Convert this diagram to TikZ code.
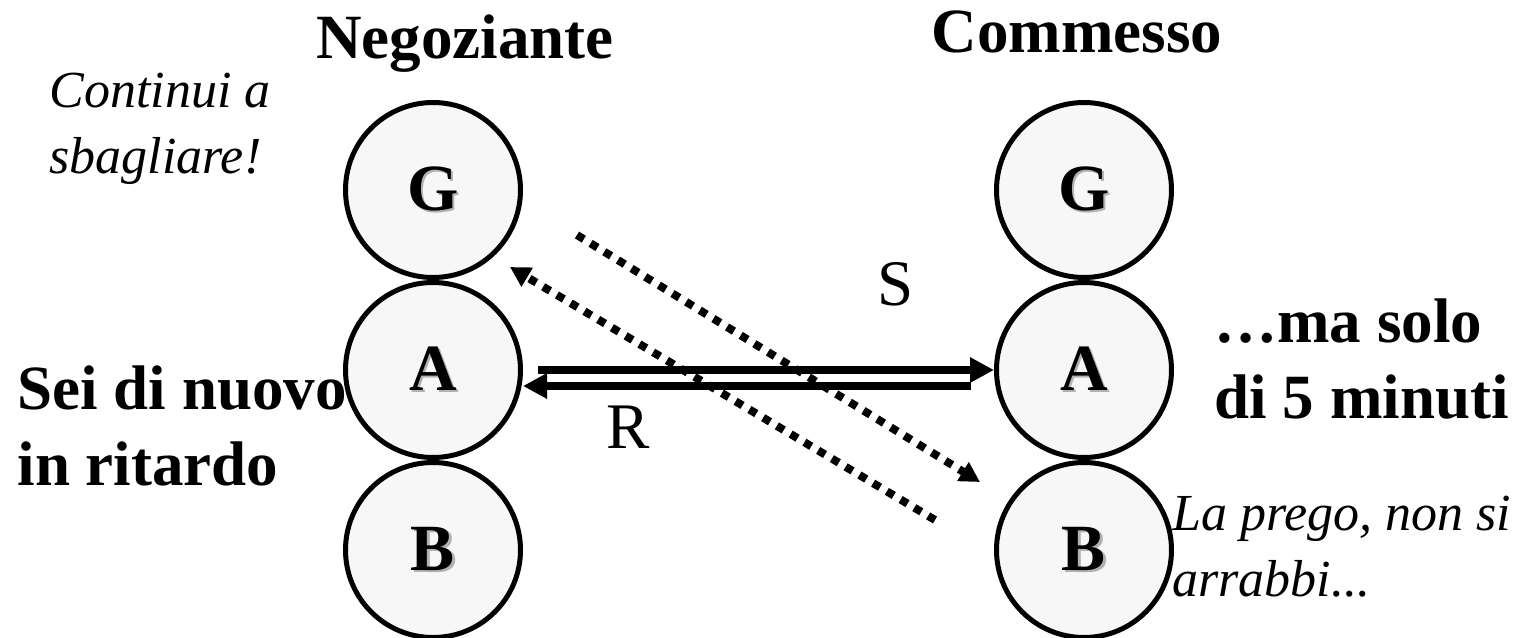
\documentclass[tikz,border=0pt]{standalone}
\usepackage{fontspec}
\setmainfont{Liberation Serif}
\usetikzlibrary{arrows.meta}

\newcommand{\shadowtxt}[1]{\makebox[0pt][l]{\hspace{1.2pt}\raisebox{-1.2pt}{\textcolor{black!30}{#1}}}#1}

\begin{document}
\begin{tikzpicture}[x=0.5pt, y=-0.5pt, line width=2.5pt,
  ball/.style={draw, circle, fill=black!3, minimum size=87.5pt, inner sep=0pt, font=\fontsize{33}{38}\selectfont\bfseries},
  head/.style={inner sep=0pt, align=left, font=\fontsize{31.5}{38}\selectfont\bfseries},
  talk/.style={inner sep=0pt, align=left, font=\fontsize{26}{33}\selectfont\itshape},
  msg/.style={line width=4pt, -{Triangle[length=12pt,width=12pt]}},
  hint/.style={line width=4pt, dash pattern=on 4pt off 4pt, -{Triangle[length=10pt,width=10.5pt]}}]
  \useasboundingbox (0,0) rectangle (1539,638);
  \node [ball] (ng) at ( 433, 190) {\shadowtxt{G}};
  \node [ball] (na) at ( 433, 370) {\shadowtxt{A}};
  \node [ball] (nb) at ( 433, 550) {\shadowtxt{B}};
  \node [ball] (cg) at (1084, 190) {\shadowtxt{G}};
  \node [ball] (ca) at (1084, 370) {\shadowtxt{A}};
  \node [ball] (cb) at (1084, 550) {\shadowtxt{B}};
  \node [head, anchor=base] (neg) at ( 465, 58) {Negoziante};
  \node [head, anchor=base] (com) at (1077, 52) {Commesso};
  \node [talk, anchor=base west] (cont) at (47, 173) {Continui a\\sbagliare!};
  \node [head, anchor=base west] (sei) at (15, 485) {Sei di nuovo\\in ritardo};
  \node [head, anchor=base west] (solo) at (1212, 418) {…ma solo\\di 5 minuti};
  \node [talk, anchor=base west] (prego) at (1170, 596) {La prego, non si\\arrabbi...};
  % messages
  \draw [msg] ([xshift=7.5pt]na.east) -- (ca.west);
  \draw [msg] ([xshift=-11.5pt,yshift=-8pt]ca.west) -- ([yshift=-8pt]na.east);
  \node [font=\fontsize{32.5}{38}\selectfont, anchor=base] (s) at (896, 305) {S};
  \node [font=\fontsize{32.5}{38}\selectfont, anchor=base] (r) at (628, 448) {R};
  % hidden messages
  \coordinate (p1) at (577, 235);
  \coordinate (p2) at (980, 482);
  \coordinate (q1) at (935, 520);
  \coordinate (q2) at (510, 267);
  \draw [hint] (p1) -- (p2);
  \draw [hint] (q1) -- (q2);
\end{tikzpicture}
\end{document}
